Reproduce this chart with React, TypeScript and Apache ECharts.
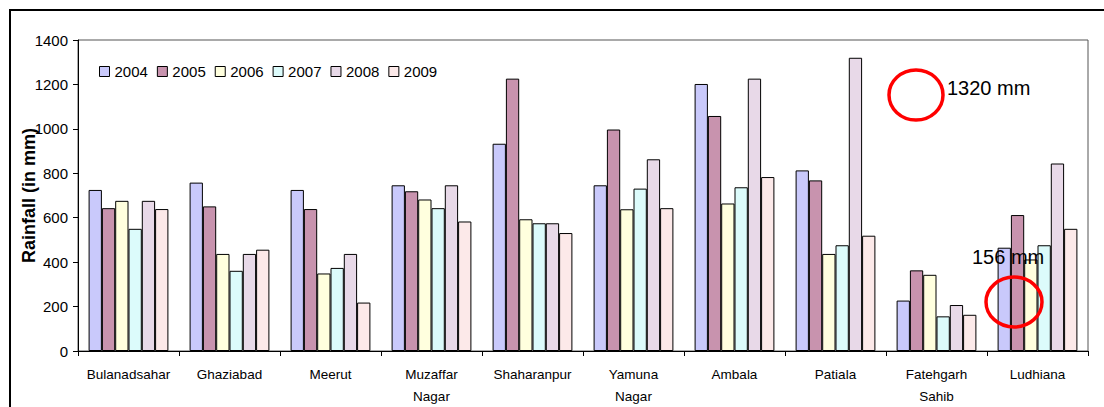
import React, { useEffect, useRef } from "react";
import * as echarts from "echarts";

const categories = [
  "Bulanadsahar",
  "Ghaziabad",
  "Meerut",
  "Muzaffar\nNagar",
  "Shaharanpur",
  "Yamuna\nNagar",
  "Ambala",
  "Patiala",
  "Fatehgarh\nSahib",
  "Ludhiana",
];

const years = ["2004", "2005", "2006", "2007", "2008", "2009"];

const v2004 = [725, 758, 725, 746, 933, 746, 1202, 813, 227, 465];
const v2005 = [643, 651, 639, 719, 1226, 997, 1058, 768, 363, 612];
const v2006 = [676, 437, 349, 682, 593, 638, 664, 437, 343, 412];
const v2007 = [550, 361, 374, 643, 575, 731, 737, 476, 156, 476];
const v2008 = [676, 437, 437, 746, 575, 863, 1226, 1320, 207, 844];
const v2009 = [639, 456, 218, 583, 531, 643, 783, 519, 163, 550];

const seriesValues = [v2004, v2005, v2006, v2007, v2008, v2009];
const seriesColors = ["#c9c9fb", "#c893ae", "#ffffde", "#dcfbfb", "#e8d9e8", "#fce9e9"];

const yTicks = { min: 0, max: 1400, interval: 200 };

const notes = ["1320 mm", "156 mm"];

const FONT = "'Liberation Sans', Arial, sans-serif";

export default function App() {
  const ref = useRef<HTMLDivElement>(null);

  useEffect(() => {
    if (!ref.current) return;
    const chart = echarts.init(ref.current, null, { renderer: "svg" });

    const option: any = {
      animation: false,
      backgroundColor: "#ffffff",
      textStyle: { fontFamily: FONT, color: "#000" },
      grid: {
        left: 78,
        top: 40,
        right: 16,
        bottom: 53,
        show: true,
        borderColor: "#555",
        borderWidth: 1,
        backgroundColor: "transparent",
      },
      legend: {
        left: 99,
        top: 64,
        padding: 0,
        icon: "rect",
        itemWidth: 10,
        itemHeight: 10,
        itemGap: 9,
        data: years,
        textStyle: { fontSize: 15, color: "#000", fontFamily: FONT },
        itemStyle: { borderColor: "#000", borderWidth: 1 },
      },
      xAxis: {
        type: "category",
        data: categories,
        axisLine: { show: true, lineStyle: { color: "#000", width: 1 } },
        axisTick: { show: true, length: 5, alignWithLabel: false, lineStyle: { color: "#000" } },
        axisLabel: {
          interval: 0,
          fontSize: 13.5,
          color: "#000",
          fontFamily: FONT,
          margin: 12,
          lineHeight: 22,
        },
        splitLine: { show: false },
      },
      yAxis: {
        type: "value",
        min: yTicks.min,
        max: yTicks.max,
        interval: yTicks.interval,
        name: "Rainfall (in mm)",
        nameLocation: "middle",
        nameGap: 40,
        nameMoveOverlap: false,
        nameRotate: 90,
        nameTextStyle: { fontSize: 18, fontWeight: "bold", color: "#000", fontFamily: FONT },
        axisLine: { show: true, lineStyle: { color: "#000", width: 1 } },
        axisTick: { show: true, length: 5, lineStyle: { color: "#000" } },
        axisLabel: {
          fontSize: 15,
          color: "#000",
          fontFamily: FONT,
          margin: 10,
          formatter: (v: number) => String(v),
        },
        splitLine: { show: false },
      },
      series: years.map((y, i) => ({
        name: y,
        type: "bar",
        data: seriesValues[i],
        barGap: "0%",
        barCategoryGap: "21%",
        itemStyle: { color: seriesColors[i], borderColor: "#000", borderWidth: 1 },
        emphasis: { disabled: true },
      })),
      graphic: [
        {
          type: "rect",
          shape: { x: 10, y: 10, width: 1200, height: 600 },
          style: { fill: "none", stroke: "#000", lineWidth: 2 },
          silent: true,
          z: 100,
        },
        {
          type: "ellipse",
          shape: { cx: 916, cy: 95, rx: 27, ry: 25 },
          style: { fill: "none", stroke: "#ff0000", lineWidth: 3.5 },
          z: 100,
        },
        {
          type: "text",
          x: 947,
          y: 88,
          style: {
            text: notes[0],
            fontSize: 20,
            fontFamily: FONT,
            fill: "#000",
            verticalAlign: "middle",
            align: "left",
          },
          z: 100,
        },
        {
          type: "ellipse",
          shape: { cx: 1014, cy: 302, rx: 28, ry: 25 },
          style: { fill: "none", stroke: "#ff0000", lineWidth: 3.5 },
          z: 100,
        },
        {
          type: "text",
          x: 972,
          y: 257,
          style: {
            text: notes[1],
            fontSize: 20,
            fontFamily: FONT,
            fill: "#000",
            verticalAlign: "middle",
            align: "left",
          },
          z: 100,
        },
      ],
    };

    chart.setOption(option);
    return () => chart.dispose();
  }, []);

  return (
    <div
      ref={ref}
      style={{ position: "absolute", left: 0, top: 0, width: 1104, height: 407 }}
    />
  );
}
